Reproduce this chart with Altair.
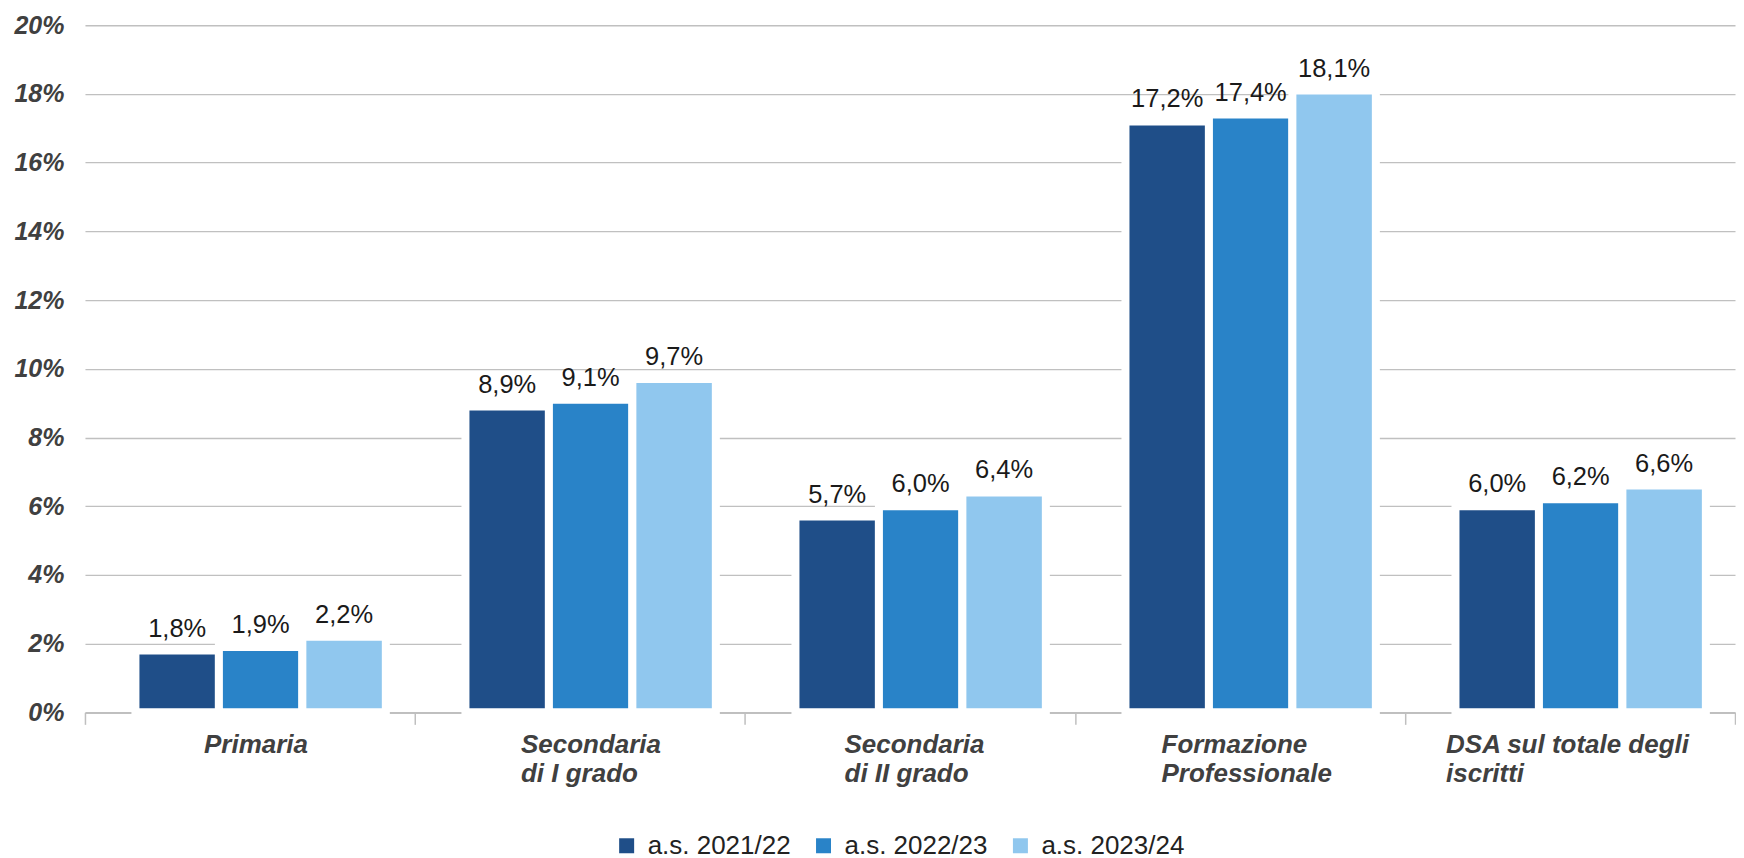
import altair as alt
import pandas as pd

categories = [
    "Primaria",
    "Secondaria\ndi I grado",
    "Secondaria\ndi II grado",
    "Formazione\nProfessionale",
    "DSA sul totale degli\niscritti",
]
years = ["a.s. 2021/22", "a.s. 2022/23", "a.s. 2023/24"]
values_2122 = [1.8, 8.9, 5.7, 17.2, 6.0]
values_2223 = [1.9, 9.1, 6.0, 17.4, 6.2]
values_2324 = [2.2, 9.7, 6.4, 18.1, 6.6]
y_ticks = [0, 2, 4, 6, 8, 10, 12, 14, 16, 18, 20]
colors = ["#1f4e88", "#2983c8", "#90c7ee"]

rows = []
for year, vals in zip(years, [values_2122, values_2223, values_2324]):
    for c, v in zip(categories, vals):
        rows.append({"cat": c, "year": year, "value": v})
df = pd.DataFrame(rows)
cat_df = pd.DataFrame({"cat": categories})

W = 1651
H = 687.5
FONT = "Liberation Sans"
GRAY = "#bfbfbf"

x_enc = alt.X(
    "cat:N", sort=categories,
    scale=alt.Scale(paddingInner=0, paddingOuter=0),
    axis=alt.Axis(labels=False, title=None, ticks=True, tickSize=12,
                  tickColor=GRAY, tickWidth=1.5, tickBand="extent",
                  domainColor=GRAY, domainWidth=1.5, grid=False, zindex=0),
)
offset_scale = alt.Scale(paddingInner=0, paddingOuter=0.477, align=0.634)
y_enc = alt.Y(
    "value:Q",
    scale=alt.Scale(domain=[0, 20], nice=False),
    axis=alt.Axis(values=y_ticks, labelExpr="datum.value + '%'", title=None,
                  domain=False, ticks=False, grid=True, gridColor="#c0c0c0",
                  gridWidth=1.3, labelFont=FONT, labelFontSize=25,
                  labelFontWeight="bold", labelFontStyle="italic",
                  labelColor="#404040", labelPadding=21, zindex=0),
)

bars = alt.Chart(df).mark_bar(stroke="white", strokeWidth=8).encode(
    x=x_enc,
    xOffset=alt.XOffset("year:N", sort=years, scale=offset_scale),
    y=y_enc,
    color=alt.Color(
        "year:N", sort=years,
        scale=alt.Scale(domain=years, range=colors),
        legend=alt.Legend(orient="none", legendX=529, legendY=808,
                          direction="horizontal", title=None,
                          symbolType="square", symbolSize=225,
                          symbolStrokeWidth=0, labelFont=FONT,
                          labelFontSize=26, labelColor="#222222",
                          labelOffset=8, columnPadding=19),
    ),
)

value_labels = alt.Chart(df).transform_calculate(
    label="replace(format(datum.value, '.1f'), '.', ',') + '%'"
).mark_text(
    dy=-14, baseline="alphabetic", align="center", font=FONT,
    fontSize=25.5, color="#1a1a1a"
).encode(
    x=alt.X("cat:N", sort=categories),
    xOffset=alt.XOffset("year:N", sort=years),
    y=alt.Y("value:Q"),
    text="label:N",
)

cat_labels = alt.Chart(cat_df).transform_calculate(
    off="width / 10 + 6 - 6.5 * max(length(split(datum.cat, '\\n')[0]), length(peek(split(datum.cat, '\\n'))))"
).mark_text(
    align="left", baseline="top", font=FONT, fontSize=26,
    fontWeight="bold", fontStyle="italic", color="#404040",
    lineHeight=29, lineBreak="\n"
).encode(
    x=alt.X("cat:N", sort=categories),
    xOffset=alt.XOffset("off:Q", scale=None),
    y=alt.value(H + 20),
    text="cat:N",
)

chart = alt.layer(bars, value_labels, cat_labels).properties(
    width=W, height=H,
    padding={"left": 5, "top": 5, "right": 0, "bottom": 0},
).configure_view(stroke=None)

chart.save("out.html", embed_options={"renderer": "svg", "actions": False})
